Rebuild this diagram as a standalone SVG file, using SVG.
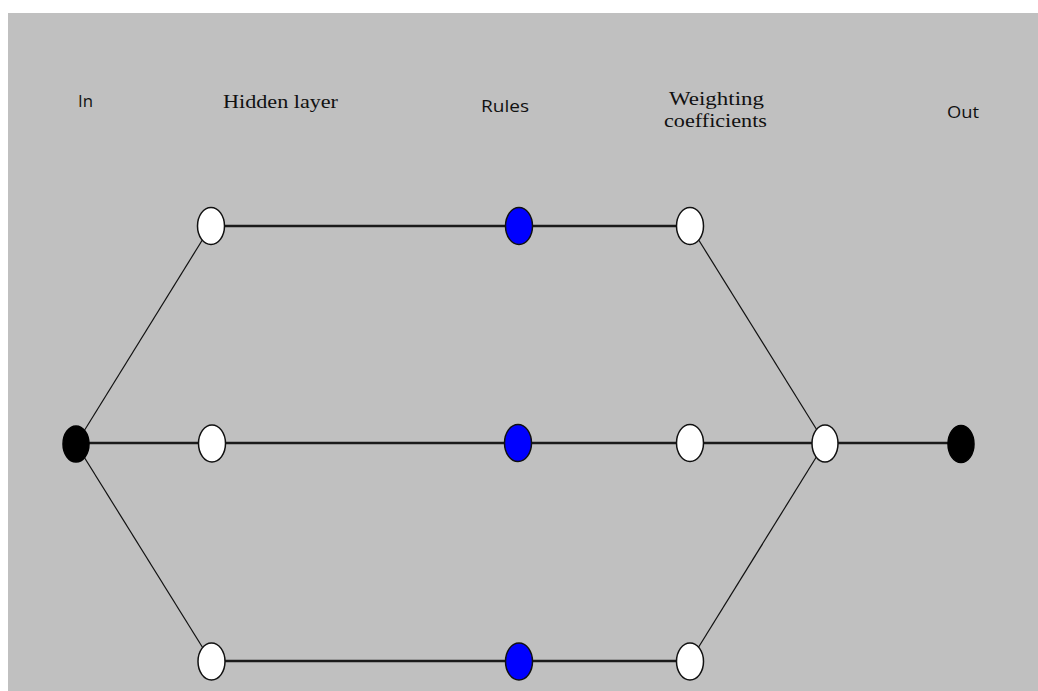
<svg xmlns="http://www.w3.org/2000/svg" width="1038" height="691" viewBox="0 0 1038 691">
<style>
.sans{font-family:"Open Sans","Liberation Sans",sans-serif;font-size:17px;fill:#111}
.serif{font-family:"Liberation Serif","Times New Roman",serif;font-size:19px;fill:#111}
.h{stroke:#1a1a1a;stroke-width:2.5;fill:none}
.d{stroke:#111;stroke-width:1.2;fill:none}
.w{fill:#fff;stroke:#111;stroke-width:1.5}
.b{fill:#0000ff;stroke:#111;stroke-width:1.5}
.k{fill:#000;stroke:#000;stroke-width:1.5}
</style>
<rect x="0" y="0" width="1038" height="691" fill="#fff"/>
<rect x="8" y="13" width="1030" height="678" fill="#c0c0c0"/>
<g id="labels">
<text class="sans" x="78" y="107" textLength="15" lengthAdjust="spacingAndGlyphs">In</text>
<text class="serif" x="223" y="108" textLength="115" lengthAdjust="spacingAndGlyphs">Hidden layer</text>
<text class="sans" x="481" y="112" textLength="48" lengthAdjust="spacingAndGlyphs">Rules</text>
<text class="serif" x="669" y="105" textLength="95" lengthAdjust="spacingAndGlyphs">Weighting</text>
<text class="serif" x="664" y="127" textLength="103" lengthAdjust="spacingAndGlyphs">coefficients</text>
<text class="sans" x="947" y="118" textLength="32" lengthAdjust="spacingAndGlyphs">Out</text>
</g>
<g id="connectors">
<line class="d" x1="76" y1="444" x2="211" y2="226"/>
<line class="d" x1="76" y1="444" x2="211" y2="661"/>
<line class="d" x1="690" y1="226" x2="825" y2="443"/>
<line class="d" x1="690" y1="661" x2="825" y2="443"/>
<line class="h" x1="211" y1="226" x2="690" y2="226"/>
<line class="h" x1="76" y1="443" x2="961" y2="443"/>
<line class="h" x1="211" y1="661" x2="690" y2="661"/>
</g>
<g id="node-in"><ellipse class="k" cx="76" cy="444" rx="13" ry="18"/></g>
<g id="node-h1"><ellipse class="w" cx="211" cy="226" rx="13.5" ry="18.5"/></g>
<g id="node-h2"><ellipse class="w" cx="212" cy="443.5" rx="13.5" ry="18.5"/></g>
<g id="node-h3"><ellipse class="w" cx="211.5" cy="661.5" rx="13.5" ry="18.5"/></g>
<g id="node-r1"><ellipse class="b" cx="519" cy="226" rx="13.5" ry="18.5"/></g>
<g id="node-r2"><ellipse class="b" cx="518" cy="443" rx="13.5" ry="18.5"/></g>
<g id="node-r3"><ellipse class="b" cx="519" cy="661.5" rx="13.5" ry="18.5"/></g>
<g id="node-w1"><ellipse class="w" cx="690" cy="226" rx="13.5" ry="18.5"/></g>
<g id="node-w2"><ellipse class="w" cx="690" cy="443" rx="13.5" ry="18.5"/></g>
<g id="node-w3"><ellipse class="w" cx="690" cy="661.5" rx="13.5" ry="18.5"/></g>
<g id="node-sum"><ellipse class="w" cx="825" cy="443.5" rx="13" ry="18.5"/></g>
<g id="node-out"><ellipse class="k" cx="961" cy="444" rx="13" ry="18.5"/></g>
</svg>
